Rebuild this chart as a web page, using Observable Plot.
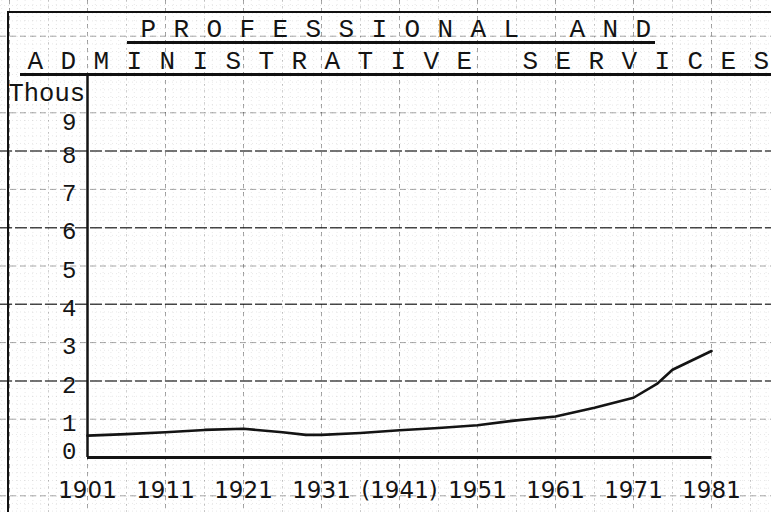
<!DOCTYPE html>
<html><head><meta charset="utf-8">
<script src="https://cdn.jsdelivr.net/npm/d3@7"></script>
<script src="https://cdn.jsdelivr.net/npm/@observablehq/plot@0.6"></script>
<style>
html,body{margin:0;padding:0;background:#fff;}
#chart{position:relative;width:771px;height:512px;overflow:hidden;background:#fff;}
#chart svg{display:block;}
.title-text text{letter-spacing:17.4px;}
.title-text text tspan.last{letter-spacing:0;}
.deco{position:absolute;background:#111;}
</style></head><body>
<div id="chart"></div>
<script>
// ---- data ----
const titleLine1 = "PROFESSIONAL AND";
const titleLine2 = "ADMINISTRATIVE SERVICES";
const unitLabel = "Thous";
const years  = [1901, 1906, 1911, 1916, 1921, 1926, 1929, 1931, 1936, 1941, 1946, 1951, 1956, 1961, 1966, 1971, 1974, 1976, 1981];
const values = [0.57, 0.61, 0.66, 0.72, 0.75, 0.66, 0.59, 0.59, 0.64, 0.71, 0.77, 0.84, 0.97, 1.07, 1.30, 1.56, 1.92, 2.29, 2.78];
const xTickYears  = [1901, 1911, 1921, 1931, 1941, 1951, 1961, 1971, 1981];
const xTickLabels = ["1901", "1911", "1921", "1931", "(1941)", "1951", "1961", "1971", "1981"];
const yTickValues = [0, 1, 2, 3, 4, 5, 6, 7, 8, 9];
const yTickLabels = ["0", "1", "2", "3", "4", "5", "6", "7", "8", "9"];

const data = years.map((year, i) => ({year, value: values[i]}));
const xTicks = xTickYears.map((year, i) => ({year, label: xTickLabels[i]}));
const yTicks = yTickValues.map((v, i) => ({v, label: yTickLabels[i]}));

// graph-paper grid (decoration)
const fineX = d3.range(1888, 1992, 1);
const fineY = d3.range(-14, 121, 2).map(d => d / 10);
const fiveX = d3.range(1886, 1992, 10);
const decadeX = d3.range(1891, 1992, 10);
const oddY = [-1, 1, 3, 5, 7, 9, 11];
const evenY = [2, 4, 6, 8];

const mono = "'Liberation Mono', 'DejaVu Sans Mono', monospace";
const sans = "'DejaVu Sans', sans-serif";
const ink = "#141414";

const yLabelStyle = {y: "v", text: "label", frameAnchor: "left", dx: 76, textAnchor: "end",
  fontFamily: mono, fontSize: 24, fill: ink};

const plot = Plot.plot({
  width: 771,
  height: 512,
  margin: 0,
  x: {domain: [1901, 1981], range: [87, 711], axis: null},
  y: {domain: [0, 10], range: [457, 74], axis: null},
  marks: [
    Plot.ruleX(fineX, {stroke: "#000", strokeOpacity: 0.12, strokeWidth: 0.8, strokeDasharray: "1,3"}),
    Plot.ruleY(fineY, {stroke: "#000", strokeOpacity: 0.12, strokeWidth: 0.8, strokeDasharray: "1,3"}),
    Plot.ruleX(fiveX, {stroke: "#000", strokeOpacity: 0.2, strokeWidth: 0.9, strokeDasharray: "2,4"}),
    Plot.ruleY(oddY, {stroke: "#000", strokeOpacity: 0.35, strokeWidth: 1, strokeDasharray: "6,4"}),
    Plot.ruleX(decadeX, {stroke: "#000", strokeOpacity: 0.35, strokeWidth: 1, strokeDasharray: "4,4"}),
    Plot.ruleY(evenY, {stroke: "#000", strokeOpacity: 0.72, strokeWidth: 1.5, strokeDasharray: "12,3"}),
    // axes
    Plot.ruleX([1901], {y1: 0, y2: 10, stroke: ink, strokeWidth: 2.5}),
    Plot.ruleY([0], {x1: 1901, x2: 1981, stroke: ink, strokeWidth: 3}),
    // series
    Plot.line(data, {x: "year", y: "value", curve: "linear", stroke: ink, strokeWidth: 2.6, strokeLinejoin: "round"}),
    // y tick labels
    Plot.text(yTicks.filter(d => d.v > 0 && d.v < 9), {...yLabelStyle, dy: 4}),
    Plot.text(yTicks.filter(d => d.v === 9), {...yLabelStyle, dy: 10}),
    Plot.text(yTicks.filter(d => d.v === 0), {...yLabelStyle, dy: -6}),
    // x tick labels
    Plot.text(xTicks, {x: "year", text: "label", frameAnchor: "bottom", dy: -15,
      fontFamily: sans, fontSize: 23, fill: ink}),
    // unit label
    Plot.text([unitLabel], {text: d => d, frameAnchor: "top-left", dx: 8, dy: 100, textAnchor: "start", lineAnchor: "bottom",
      fontFamily: mono, fontSize: 25.5, fill: ink}),
    // titles
    Plot.text([titleLine1], {text: d => d, frameAnchor: "top-left", dx: 140, dy: 36, textAnchor: "start", lineAnchor: "bottom",
      fontFamily: mono, fontSize: 26, fill: ink, className: "title-text"}),
    Plot.text([titleLine2], {text: d => d, frameAnchor: "top-left", dx: 27, dy: 68, textAnchor: "start", lineAnchor: "bottom",
      fontFamily: mono, fontSize: 26, fill: ink, className: "title-text"})
  ]
});

// keep letter spacing between letters only (no trailing space after the last letter)
d3.select(plot).selectAll(".title-text text").each(function() {
  const t = d3.select(this);
  const target = t.select("tspan").empty() ? t : t.select("tspan");
  const s = target.text();
  target.text(s.slice(0, -1));
  target.append("tspan").attr("class", "last").text(s.slice(-1));
});

const chart = document.getElementById("chart");
chart.appendChild(plot);
// box and title underlines
[
  {left: 7, top: 11, width: 764, height: 2},
  {left: 7, top: 11, width: 2, height: 501},
  {left: 127, top: 41, width: 528, height: 2.5},
  {left: 20, top: 73, width: 751, height: 2.5}
].forEach(s => {
  const d = document.createElement("div");
  d.className = "deco";
  Object.assign(d.style, {left: s.left + "px", top: s.top + "px", width: s.width + "px", height: s.height + "px"});
  chart.appendChild(d);
});
</script>
</body></html>
